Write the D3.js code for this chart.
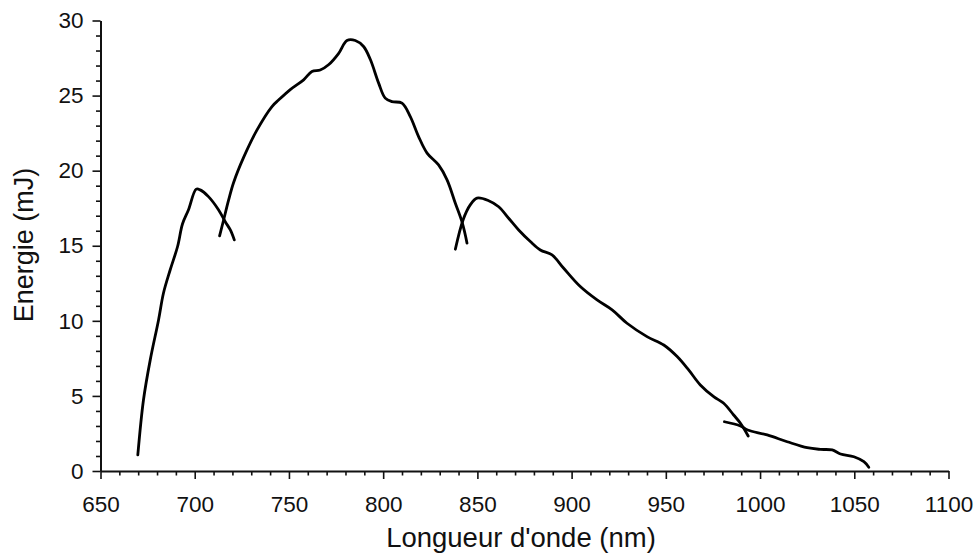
<!DOCTYPE html>
<html>
<head>
<meta charset="utf-8">
<script src="https://cdn.jsdelivr.net/npm/d3@7"></script>
<style>
  html, body { margin: 0; padding: 0; background: #fff; }
  svg { display: block; font-family: "Liberation Sans", Arial, Helvetica, sans-serif; }
</style>
</head>
<body>
<svg id="chart" width="975" height="556"></svg>
<script>
// Wavelength (nm) / energy (mJ) for the four tuning segments
const seg1Wavelength = [669.8, 672.8, 676.4, 680.8, 683.4, 687.0, 690.9, 693.5, 696.7, 700.8, 702.9, 707.3, 712.6, 716.2, 718.9, 721.0];
const seg1Energy     = [1.07, 4.73, 7.4, 10.06, 11.84, 13.4, 14.95, 16.45, 17.4, 18.77, 18.72, 18.27, 17.4, 16.6, 16.05, 15.39];

const seg2Wavelength = [713.2, 715.3, 718.0, 720.6, 726.0, 733.0, 741.0, 744.5, 750.7, 757.8, 762.2, 766.6, 771.0, 776.3, 780.8, 785.2, 789.6, 793.2, 797.6, 801.1, 804.7, 810.0, 814.4, 818.8, 823.3, 829.4, 833.9, 838.3, 841.8, 844.5];
const seg2Energy     = [15.66, 16.7, 18.05, 19.2, 20.9, 22.7, 24.27, 24.7, 25.4, 26.05, 26.6, 26.7, 27.05, 27.8, 28.67, 28.67, 28.27, 27.4, 25.83, 24.83, 24.6, 24.5, 23.6, 22.27, 21.17, 20.38, 19.39, 17.83, 16.6, 15.17];

const seg3Wavelength = [838.3, 842.4, 846.2, 849.8, 856.0, 861.3, 866.6, 871.9, 878.1, 883.4, 889.6, 895.8, 904.6, 913.5, 921.5, 929.4, 940.0, 948.9, 956.0, 962.1, 968.3, 975.4, 980.7, 986.0, 989.6, 993.7];
const seg3Energy     = [14.77, 16.72, 17.72, 18.17, 18.0, 17.6, 16.83, 16.05, 15.28, 14.72, 14.39, 13.5, 12.28, 11.39, 10.73, 9.84, 8.95, 8.39, 7.62, 6.73, 5.73, 4.95, 4.51, 3.73, 3.18, 2.33];

const seg4Wavelength = [981.1, 989.6, 993.4, 1003.8, 1014.4, 1025.0, 1032.0, 1038.3, 1042.7, 1049.8, 1055.1, 1057.7];
const seg4Energy     = [3.28, 3.0, 2.73, 2.4, 1.95, 1.55, 1.44, 1.4, 1.13, 0.95, 0.62, 0.25];

const xTickValues = [650, 700, 750, 800, 850, 900, 950, 1000, 1050, 1100];
const yTickValues = [0, 5, 10, 15, 20, 25, 30];
const xLabel = "Longueur d'onde (nm)";
const yLabel = "Energie (mJ)";

const svg = d3.select("#chart");
const x = d3.scaleLinear().domain([650, 1100]).range([100.5, 948.5]);
const y = d3.scaleLinear().domain([0, 30]).range([471, 20.5]);

const segments = [
  [seg1Wavelength, seg1Energy],
  [seg2Wavelength, seg2Energy],
  [seg3Wavelength, seg3Energy],
  [seg4Wavelength, seg4Energy]
].map(([w, e]) => w.map((v, i) => [v, e[i]]));

const FONT = "Liberation Sans, Arial, sans-serif";

// X axis
const xMinor = d3.range(650, 1101, 10).filter(v => !xTickValues.includes(v));
const gx = svg.append("g").attr("transform", `translate(0,${y(0)})`);
gx.append("g").call(d3.axisBottom(x).tickValues(xMinor).tickSize(4.5).tickFormat(""))
  .call(g => g.select(".domain").remove());
gx.append("g").call(d3.axisBottom(x).tickValues(xTickValues).tickSize(8).tickSizeOuter(0).tickPadding(17).tickFormat(d3.format("d")))
  .call(g => g.selectAll("text").attr("font-size", 22.5).attr("fill", "#111").attr("font-family", FONT));
gx.selectAll("line").attr("stroke", "#111").attr("stroke-width", 1.6);
gx.selectAll(".domain").attr("stroke", "#111").attr("stroke-width", 2);

// Y axis
const yMinor = d3.range(0, 31, 1).filter(v => !yTickValues.includes(v));
const gy = svg.append("g").attr("transform", `translate(${x(650)},0)`);
gy.append("g").call(d3.axisLeft(y).tickValues(yMinor).tickSize(4.5).tickFormat(""))
  .call(g => g.select(".domain").remove());
gy.append("g").call(d3.axisLeft(y).tickValues(yTickValues).tickSize(8).tickSizeOuter(0).tickPadding(9).tickFormat(d3.format("d")))
  .call(g => g.selectAll("text").attr("font-size", 22.5).attr("fill", "#111").attr("font-family", FONT));
gy.selectAll("line").attr("stroke", "#111").attr("stroke-width", 1.6);
gy.selectAll(".domain").attr("stroke", "#111").attr("stroke-width", 2);

// Axis labels
svg.append("text")
  .attr("x", 521)
  .attr("y", 547)
  .attr("text-anchor", "middle")
  .attr("font-size", 27.5)
  .attr("fill", "#111")
  .text(xLabel);

svg.append("text")
  .attr("transform", `translate(33,245) rotate(-90)`)
  .attr("text-anchor", "middle")
  .attr("font-size", 27)
  .attr("fill", "#111")
  .text(yLabel);

// Curves
const line = d3.line().x(d => x(d[0])).y(d => y(d[1])).curve(d3.curveCatmullRom.alpha(0.5));
svg.append("g").selectAll("path").data(segments).join("path")
  .attr("d", line)
  .attr("fill", "none")
  .attr("stroke", "#000")
  .attr("stroke-width", 2.8)
  .attr("stroke-linejoin", "round")
  .attr("stroke-linecap", "round");
</script>
</body>
</html>
